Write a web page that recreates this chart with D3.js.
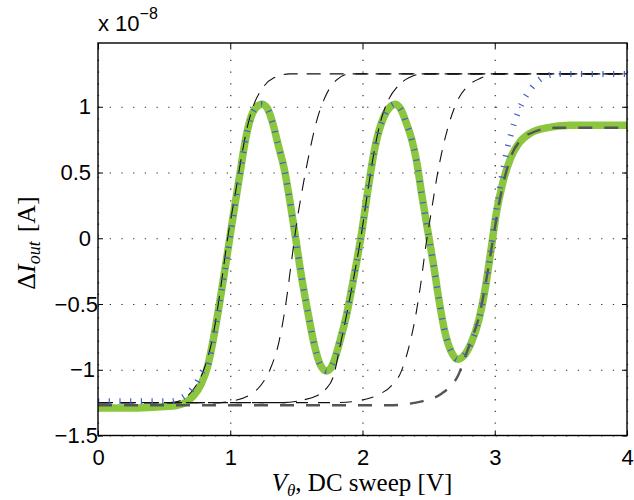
<!DOCTYPE html>
<html>
<head>
<meta charset="utf-8">
<script src="https://cdn.jsdelivr.net/npm/d3@7"></script>
<style>
  body { margin: 0; background: #fff; }
  svg { display: block; }
  .tick text { font-family: "Liberation Sans", Arial, sans-serif; font-size: 22px; fill: #000; }
  .axis path { display: none; }
  .axis line { stroke: #000; stroke-width: 1; }
  .grid line { stroke: #333; stroke-width: 1.2; stroke-dasharray: 1.3 10.4; }
  .grid path { display: none; }
</style>
</head>
<body>
<svg id="chart" width="634" height="500"></svg>
<script>
// values of the current are in units of 1e-8 A
var xTicks = [0, 1, 2, 3, 4]
var yTicks = [-1.5, -1, -0.5, 0, 0.5, 1]
var yTickLabels = ["\u22121.5", "\u22121", "\u22120.5", "0", "0.5", "1"]

// measured curve (thick green)
var measV = [0, 0.3, 0.5, 0.6, 0.66, 0.72, 0.78, 0.83, 0.87, 0.91, 0.95, 0.99, 1.03, 1.07, 1.11, 1.15, 1.2, 1.24, 1.28, 1.32, 1.36, 1.41, 1.45, 1.49, 1.54, 1.59, 1.64, 1.68, 1.73, 1.77, 1.83, 1.88, 1.93, 1.99, 2.04, 2.09, 2.16, 2.21, 2.25, 2.29, 2.33, 2.37, 2.41, 2.45, 2.5, 2.54, 2.58, 2.62, 2.67, 2.72, 2.76, 2.82, 2.88, 2.93, 2.97, 3.01, 3.06, 3.12, 3.18, 3.27, 3.39, 3.57, 4.0]
var measI = [-1.29, -1.29, -1.28, -1.27, -1.25, -1.2, -1.11, -0.97, -0.78, -0.55, -0.3, -0.04, 0.22, 0.47, 0.72, 0.9, 1.0, 1.02, 0.99, 0.88, 0.72, 0.52, 0.29, 0.03, -0.3, -0.58, -0.83, -0.96, -1.01, -0.97, -0.78, -0.58, -0.32, 0.02, 0.36, 0.67, 0.92, 1.0, 1.02, 0.98, 0.88, 0.76, 0.58, 0.32, 0.02, -0.22, -0.48, -0.7, -0.86, -0.92, -0.9, -0.8, -0.62, -0.37, -0.1, 0.18, 0.42, 0.61, 0.72, 0.8, 0.84, 0.86, 0.86]

// model curve (blue dotted)
var modelV = [0, 0.55, 0.62, 0.68, 0.74, 0.8, 0.83, 0.87, 0.91, 0.95, 0.99, 1.03, 1.07, 1.11, 1.15, 1.2, 1.24, 1.28, 1.32, 1.36, 1.41, 1.45, 1.49, 1.54, 1.59, 1.64, 1.68, 1.73, 1.77, 1.83, 1.88, 1.93, 1.99, 2.04, 2.09, 2.16, 2.21, 2.25, 2.29, 2.33, 2.37, 2.41, 2.45, 2.5, 2.54, 2.58, 2.62, 2.67, 2.72, 2.76, 2.82, 2.88, 2.93, 2.97, 3.01, 3.05, 3.09, 3.13, 3.18, 3.24, 3.3, 3.38, 3.48, 4.0]
var modelI = [-1.24, -1.24, -1.22, -1.18, -1.11, -1.0, -0.97, -0.78, -0.55, -0.3, -0.04, 0.22, 0.47, 0.72, 0.9, 1.0, 1.02, 0.99, 0.88, 0.72, 0.52, 0.29, 0.03, -0.3, -0.58, -0.83, -0.96, -1.01, -0.97, -0.78, -0.58, -0.32, 0.02, 0.36, 0.67, 0.92, 1.0, 1.02, 0.98, 0.88, 0.76, 0.58, 0.32, 0.02, -0.22, -0.48, -0.7, -0.86, -0.92, -0.9, -0.8, -0.62, -0.37, -0.1, 0.2, 0.45, 0.66, 0.82, 0.97, 1.09, 1.17, 1.23, 1.25, 1.25]

// single-stage step responses (black dashed)
var stepA_V = [0, 0.55, 0.65, 0.72, 0.8, 0.87, 0.93, 0.98, 1.04, 1.09, 1.13, 1.18, 1.25, 1.33, 1.45, 4]
var stepA_I = [-1.25, -1.25, -1.22, -1.15, -1.0, -0.74, -0.36, 0.0, 0.35, 0.65, 0.85, 1.02, 1.15, 1.22, 1.25, 1.25]
var stepB_V = [0, 0.9, 1.05, 1.15, 1.23, 1.3, 1.37, 1.42, 1.46, 1.5, 1.55, 1.6, 1.65, 1.72, 1.8, 1.9, 4]
var stepB_I = [-1.25, -1.25, -1.23, -1.19, -1.12, -1.0, -0.78, -0.5, -0.2, 0.1, 0.4, 0.66, 0.88, 1.08, 1.2, 1.25, 1.25]
var stepC_V = [0, 1.4, 1.55, 1.65, 1.72, 1.78, 1.83, 1.88, 1.93, 1.99, 2.04, 2.09, 2.14, 2.2, 2.27, 2.35, 2.45, 4]
var stepC_I = [-1.25, -1.25, -1.23, -1.2, -1.15, -1.05, -0.82, -0.58, -0.32, 0.02, 0.36, 0.67, 0.9, 1.06, 1.16, 1.22, 1.25, 1.25]
var stepD_V = [0, 1.8, 2.0, 2.12, 2.22, 2.29, 2.35, 2.4, 2.44, 2.48, 2.52, 2.56, 2.61, 2.66, 2.72, 2.8, 2.9, 3.0, 4]
var stepD_I = [-1.25, -1.25, -1.23, -1.19, -1.12, -1.02, -0.83, -0.6, -0.35, -0.05, 0.2, 0.45, 0.7, 0.89, 1.05, 1.16, 1.22, 1.25, 1.25]
// last stage (grey dashed, settles lower)
var stepE_V = [0, 2.2, 2.45, 2.6, 2.67, 2.72, 2.77, 2.82, 2.88, 2.93, 2.98, 3.03, 3.08, 3.13, 3.2, 3.3, 3.45, 4]
var stepE_I = [-1.27, -1.27, -1.24, -1.18, -1.12, -1.05, -0.92, -0.78, -0.6, -0.35, -0.05, 0.25, 0.48, 0.64, 0.75, 0.81, 0.84, 0.84]

var svg = d3.select("#chart")
var margin = { left: 98, right: 627, top: 43, bottom: 435.5 }
var w = margin.right - margin.left, h = margin.bottom - margin.top

var xscale = d3.scaleLinear().domain([0, 4]).range([0, w])
var yscale = d3.scaleLinear().domain([-1.5, 1.485]).range([h, 0])

var g = svg.append("g").attr("transform", `translate(${margin.left}, ${margin.top})`)

g.append("clipPath").attr("id", "clip")
  .append("rect").attr("width", w).attr("height", h)

// dotted grid
g.append("g").attr("class", "grid")
  .attr("transform", `translate(0, ${h})`)
  .call(d3.axisBottom(xscale).tickValues(xTicks).tickSize(-h).tickFormat(""))
g.append("g").attr("class", "grid")
  .call(d3.axisLeft(yscale).tickValues(yTicks).tickSize(-w).tickFormat(""))

var line = d3.line()
  .x(d => xscale(d[0]))
  .y(d => yscale(d[1]))
  .curve(d3.curveMonotoneX)

var zip = (a, b) => a.map((v, i) => [v, b[i]])

var curves = g.append("g").attr("clip-path", "url(#clip)")

curves.append("path")
  .attr("d", line(zip(measV, measI)))
  .attr("fill", "none").attr("stroke", "#8cc63f")
  .attr("stroke-width", 7.5).attr("stroke-linejoin", "round").attr("stroke-linecap", "round")

var steps = [
  [stepA_V, stepA_I, "#111", 1.1, "14 9"],
  [stepB_V, stepB_I, "#111", 1.1, "13 10"],
  [stepC_V, stepC_I, "#111", 1.1, "15 8"],
  [stepD_V, stepD_I, "#111", 1.1, "12 10"],
  [stepE_V, stepE_I, "#555", 2.4, "14 12"]
]
curves.selectAll(".step").data(steps)
  .join("path")
  .attr("class", "step")
  .attr("d", d => line(zip(d[0], d[1])))
  .attr("fill", "none")
  .attr("stroke", d => d[2])
  .attr("stroke-width", d => d[3])
  .attr("stroke-dasharray", d => d[4])

curves.append("path")
  .attr("d", line(zip(modelV, modelI)))
  .attr("fill", "none").attr("stroke", "#3f5fcf")
  .attr("stroke-width", 6).attr("stroke-dasharray", "1.2 9.5")

// axes, ticks pointing inwards on all four sides
g.append("g").attr("class", "axis")
  .attr("transform", `translate(0, ${h})`)
  .call(d3.axisBottom(xscale).tickValues(xTicks).tickSize(-5).tickPadding(14).tickFormat(d3.format("d")))
g.append("g").attr("class", "axis")
  .call(d3.axisTop(xscale).tickValues(xTicks).tickSize(-5).tickFormat(""))
var yaxis = g.append("g").attr("class", "axis")
  .call(d3.axisLeft(yscale).tickValues(yTicks).tickSize(-5).tickPadding(7)
    .tickFormat((d, i) => yTickLabels[i]))
yaxis.selectAll(".tick text").attr("dx", d => d < 0 ? (d == -1 ? 4 : 7) : 0)
g.append("g").attr("class", "axis")
  .attr("transform", `translate(${w}, 0)`)
  .call(d3.axisRight(yscale).tickValues(yTicks).tickSize(-5).tickFormat(""))

g.append("rect")
  .attr("width", w).attr("height", h)
  .attr("fill", "none").attr("stroke", "#000").attr("stroke-width", 1.4)

// exponent label
var ex = svg.append("text")
  .attr("x", 98).attr("y", 31)
  .style("font-family", "'Liberation Sans', Arial, sans-serif")
  .style("font-size", "22px")
ex.append("tspan").text("x 10")
ex.append("tspan").attr("dy", -12).style("font-size", "16px").text("\u22128")

// axis titles
var xl = svg.append("text")
  .attr("x", 362).attr("y", 491)
  .attr("text-anchor", "middle")
  .style("font-family", "'Liberation Serif', 'Times New Roman', serif")
  .style("font-size", "25px")
xl.append("tspan").style("font-style", "italic").text("V")
xl.append("tspan").attr("dy", 5).style("font-style", "italic").style("font-size", "17px").text("\u03b8")
xl.append("tspan").attr("dy", -5).text(", DC sweep [V]")

var yl = svg.append("text")
  .attr("transform", "translate(35, 243) rotate(-90)")
  .attr("text-anchor", "middle")
  .style("font-family", "'Liberation Serif', 'Times New Roman', serif")
  .style("font-size", "26px")
yl.append("tspan").text("\u0394")
yl.append("tspan").style("font-style", "italic").text("I")
yl.append("tspan").attr("dy", 5).style("font-style", "italic").style("font-size", "18px").text("out")
yl.append("tspan").attr("dy", -5).attr("dx", 9).text("[A]")
</script>
</body>
</html>
